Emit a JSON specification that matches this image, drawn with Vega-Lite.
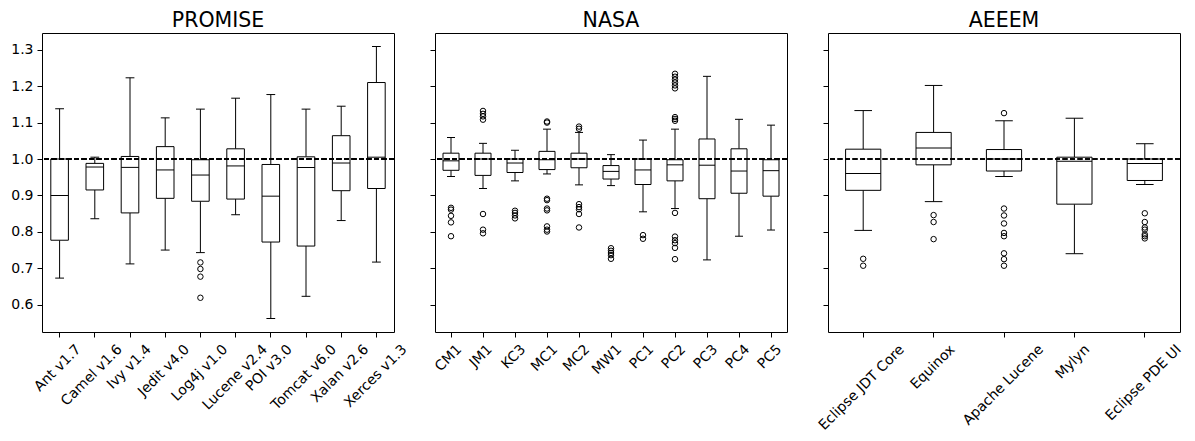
{
  "$schema": "https://vega.github.io/schema/vega-lite/v6.json",
  "background": "white",
  "padding": {"left": 10, "top": 10, "right": 5, "bottom": 5},
  "spacing": 41,
  "bounds": "flush",
  "config": {
    "view": {"stroke": "black", "strokeWidth": 1},
    "axis": {"labelFont": "DejaVu Sans", "labelFontSize": 14, "labelColor": "black", "tickColor": "black", "tickSize": 5, "tickWidth": 1, "domain": false, "grid": false},
    "title": {"font": "DejaVu Sans", "fontSize": 20.5, "fontWeight": "normal", "color": "black", "baseline": "alphabetic", "offset": 2, "anchor": "middle"}
  },
  "datasets": {
    "stats": [
      {"g": "PROMISE", "name": "Ant v1.7", "low": 0.673, "q1": 0.777, "med": 0.900, "q3": 1.000, "high": 1.138},
      {"g": "PROMISE", "name": "Camel v1.6", "low": 0.836, "q1": 0.915, "med": 0.978, "q3": 0.988, "high": 1.005},
      {"g": "PROMISE", "name": "Ivy v1.4", "low": 0.712, "q1": 0.852, "med": 0.977, "q3": 1.007, "high": 1.223},
      {"g": "PROMISE", "name": "Jedit v4.0", "low": 0.750, "q1": 0.892, "med": 0.970, "q3": 1.034, "high": 1.113},
      {"g": "PROMISE", "name": "Log4j v1.0", "low": 0.743, "q1": 0.884, "med": 0.956, "q3": 0.998, "high": 1.137},
      {"g": "PROMISE", "name": "Lucene v2.4", "low": 0.847, "q1": 0.890, "med": 0.981, "q3": 1.028, "high": 1.167},
      {"g": "PROMISE", "name": "POI v3.0", "low": 0.562, "q1": 0.772, "med": 0.898, "q3": 0.985, "high": 1.177},
      {"g": "PROMISE", "name": "Tomcat v6.0", "low": 0.623, "q1": 0.761, "med": 0.977, "q3": 1.006, "high": 1.137},
      {"g": "PROMISE", "name": "Xalan v2.6", "low": 0.831, "q1": 0.913, "med": 0.989, "q3": 1.064, "high": 1.145},
      {"g": "PROMISE", "name": "Xerces v1.3", "low": 0.717, "q1": 0.919, "med": 1.005, "q3": 1.210, "high": 1.309},
      {"g": "NASA", "name": "CM1", "low": 0.952, "q1": 0.969, "med": 0.995, "q3": 1.016, "high": 1.059},
      {"g": "NASA", "name": "JM1", "low": 0.919, "q1": 0.955, "med": 1.000, "q3": 1.016, "high": 1.043},
      {"g": "NASA", "name": "KC3", "low": 0.940, "q1": 0.963, "med": 0.989, "q3": 1.000, "high": 1.024},
      {"g": "NASA", "name": "MC1", "low": 0.959, "q1": 0.971, "med": 0.998, "q3": 1.021, "high": 1.082},
      {"g": "NASA", "name": "MC2", "low": 0.929, "q1": 0.976, "med": 1.000, "q3": 1.016, "high": 1.073},
      {"g": "NASA", "name": "MW1", "low": 0.927, "q1": 0.945, "med": 0.966, "q3": 0.982, "high": 1.012},
      {"g": "NASA", "name": "PC1", "low": 0.855, "q1": 0.930, "med": 0.970, "q3": 1.000, "high": 1.052},
      {"g": "NASA", "name": "PC2", "low": 0.864, "q1": 0.940, "med": 0.984, "q3": 0.998, "high": 1.082},
      {"g": "NASA", "name": "PC3", "low": 0.723, "q1": 0.891, "med": 0.983, "q3": 1.055, "high": 1.227},
      {"g": "NASA", "name": "PC4", "low": 0.788, "q1": 0.906, "med": 0.967, "q3": 1.028, "high": 1.109},
      {"g": "NASA", "name": "PC5", "low": 0.805, "q1": 0.898, "med": 0.968, "q3": 0.998, "high": 1.093},
      {"g": "AEEEM", "name": "Eclipse JDT Core", "low": 0.804, "q1": 0.914, "med": 0.960, "q3": 1.027, "high": 1.133},
      {"g": "AEEEM", "name": "Equinox", "low": 0.883, "q1": 0.984, "med": 1.030, "q3": 1.073, "high": 1.202},
      {"g": "AEEEM", "name": "Apache Lucene", "low": 0.952, "q1": 0.967, "med": 1.000, "q3": 1.026, "high": 1.105},
      {"g": "AEEEM", "name": "Mylyn", "low": 0.740, "q1": 0.876, "med": 0.994, "q3": 1.005, "high": 1.112},
      {"g": "AEEEM", "name": "Eclipse PDE UI", "low": 0.930, "q1": 0.941, "med": 0.988, "q3": 1.000, "high": 1.042}
    ],
    "out": [
      {"g": "PROMISE", "name": "Log4j v1.0", "v": 0.716},
      {"g": "PROMISE", "name": "Log4j v1.0", "v": 0.698},
      {"g": "PROMISE", "name": "Log4j v1.0", "v": 0.677},
      {"g": "PROMISE", "name": "Log4j v1.0", "v": 0.619},
      {"g": "NASA", "name": "CM1", "v": 0.866},
      {"g": "NASA", "name": "CM1", "v": 0.861},
      {"g": "NASA", "name": "CM1", "v": 0.844},
      {"g": "NASA", "name": "CM1", "v": 0.826},
      {"g": "NASA", "name": "CM1", "v": 0.788},
      {"g": "NASA", "name": "JM1", "v": 1.132},
      {"g": "NASA", "name": "JM1", "v": 1.124},
      {"g": "NASA", "name": "JM1", "v": 1.117},
      {"g": "NASA", "name": "JM1", "v": 1.108},
      {"g": "NASA", "name": "JM1", "v": 0.849},
      {"g": "NASA", "name": "JM1", "v": 0.806},
      {"g": "NASA", "name": "JM1", "v": 0.796},
      {"g": "NASA", "name": "KC3", "v": 0.858},
      {"g": "NASA", "name": "KC3", "v": 0.852},
      {"g": "NASA", "name": "KC3", "v": 0.845},
      {"g": "NASA", "name": "KC3", "v": 0.837},
      {"g": "NASA", "name": "MC1", "v": 1.103},
      {"g": "NASA", "name": "MC1", "v": 1.100},
      {"g": "NASA", "name": "MC1", "v": 0.891},
      {"g": "NASA", "name": "MC1", "v": 0.887},
      {"g": "NASA", "name": "MC1", "v": 0.864},
      {"g": "NASA", "name": "MC1", "v": 0.859},
      {"g": "NASA", "name": "MC1", "v": 0.815},
      {"g": "NASA", "name": "MC1", "v": 0.806},
      {"g": "NASA", "name": "MC1", "v": 0.801},
      {"g": "NASA", "name": "MC2", "v": 1.089},
      {"g": "NASA", "name": "MC2", "v": 1.083},
      {"g": "NASA", "name": "MC2", "v": 0.876},
      {"g": "NASA", "name": "MC2", "v": 0.868},
      {"g": "NASA", "name": "MC2", "v": 0.862},
      {"g": "NASA", "name": "MC2", "v": 0.849},
      {"g": "NASA", "name": "MC2", "v": 0.812},
      {"g": "NASA", "name": "MW1", "v": 0.755},
      {"g": "NASA", "name": "MW1", "v": 0.748},
      {"g": "NASA", "name": "MW1", "v": 0.742},
      {"g": "NASA", "name": "MW1", "v": 0.736},
      {"g": "NASA", "name": "MW1", "v": 0.726},
      {"g": "NASA", "name": "PC1", "v": 0.791},
      {"g": "NASA", "name": "PC1", "v": 0.781},
      {"g": "NASA", "name": "PC2", "v": 1.234},
      {"g": "NASA", "name": "PC2", "v": 1.226},
      {"g": "NASA", "name": "PC2", "v": 1.218},
      {"g": "NASA", "name": "PC2", "v": 1.210},
      {"g": "NASA", "name": "PC2", "v": 1.202},
      {"g": "NASA", "name": "PC2", "v": 1.194},
      {"g": "NASA", "name": "PC2", "v": 1.115},
      {"g": "NASA", "name": "PC2", "v": 1.110},
      {"g": "NASA", "name": "PC2", "v": 1.105},
      {"g": "NASA", "name": "PC2", "v": 0.852},
      {"g": "NASA", "name": "PC2", "v": 0.787},
      {"g": "NASA", "name": "PC2", "v": 0.777},
      {"g": "NASA", "name": "PC2", "v": 0.769},
      {"g": "NASA", "name": "PC2", "v": 0.756},
      {"g": "NASA", "name": "PC2", "v": 0.725},
      {"g": "AEEEM", "name": "Eclipse JDT Core", "v": 0.726},
      {"g": "AEEEM", "name": "Eclipse JDT Core", "v": 0.707},
      {"g": "AEEEM", "name": "Equinox", "v": 0.846},
      {"g": "AEEEM", "name": "Equinox", "v": 0.827},
      {"g": "AEEEM", "name": "Equinox", "v": 0.780},
      {"g": "AEEEM", "name": "Apache Lucene", "v": 1.126},
      {"g": "AEEEM", "name": "Apache Lucene", "v": 0.864},
      {"g": "AEEEM", "name": "Apache Lucene", "v": 0.845},
      {"g": "AEEEM", "name": "Apache Lucene", "v": 0.823},
      {"g": "AEEEM", "name": "Apache Lucene", "v": 0.797},
      {"g": "AEEEM", "name": "Apache Lucene", "v": 0.788},
      {"g": "AEEEM", "name": "Apache Lucene", "v": 0.741},
      {"g": "AEEEM", "name": "Apache Lucene", "v": 0.725},
      {"g": "AEEEM", "name": "Apache Lucene", "v": 0.707},
      {"g": "AEEEM", "name": "Eclipse PDE UI", "v": 0.851},
      {"g": "AEEEM", "name": "Eclipse PDE UI", "v": 0.827},
      {"g": "AEEEM", "name": "Eclipse PDE UI", "v": 0.812},
      {"g": "AEEEM", "name": "Eclipse PDE UI", "v": 0.806},
      {"g": "AEEEM", "name": "Eclipse PDE UI", "v": 0.793},
      {"g": "AEEEM", "name": "Eclipse PDE UI", "v": 0.788},
      {"g": "AEEEM", "name": "Eclipse PDE UI", "v": 0.782}
    ]
  },
  "hconcat": [
    {
      "title": "PROMISE",
      "width": 352, "height": 299,
      "data": {"name": "stats"},
      "transform": [{"filter": "datum.g == 'PROMISE'"}],
      "layer": [
        {"mark": {"type": "rule", "color": "black", "strokeWidth": 1},
         "encoding": {
           "x": {"field": "name", "type": "nominal", "scale": {"domain": ["Ant v1.7","Camel v1.6","Ivy v1.4","Jedit v4.0","Log4j v1.0","Lucene v2.4","POI v3.0","Tomcat v6.0","Xalan v2.6","Xerces v1.3"], "paddingInner": 0, "paddingOuter": 0}, "axis": {"title": null, "labelAngle": -45, "labelAlign": "right", "labelBaseline": "top", "labelPadding": 5, "labelOffset": {"expr": "0.354*(8.6*length(datum.label) - 4.3*(length(datum.label) - length(replace(datum.label, regexp('[ .lIijJtfr]', 'g'), ''))) - 16)"}}},
           "y": {"field": "low", "type": "quantitative", "scale": {"domain": [0.525, 1.346], "nice": false, "zero": false}, "axis": {"title": null, "values": [0.6,0.7,0.8,0.9,1.0,1.1,1.2,1.3], "format": ".1f", "labelPadding": 4}},
           "y2": {"field": "q1"}
         }},
        {"mark": {"type": "rule", "color": "black", "strokeWidth": 1},
         "encoding": {
           "x": {"field": "name", "type": "nominal"},
           "y": {"field": "q3", "type": "quantitative"},
           "y2": {"field": "high"}
         }},
        {"mark": {"type": "tick", "color": "black", "size": 8.8, "thickness": 1, "opacity": 1},
         "encoding": {
           "x": {"field": "name", "type": "nominal"},
           "y": {"field": "low", "type": "quantitative"}
         }},
        {"mark": {"type": "tick", "color": "black", "size": 8.8, "thickness": 1, "opacity": 1},
         "encoding": {
           "x": {"field": "name", "type": "nominal"},
           "y": {"field": "high", "type": "quantitative"}
         }},
        {"mark": {"type": "bar", "width": {"band": 0.5}, "fill": "white", "stroke": "black", "strokeWidth": 1},
         "encoding": {
           "x": {"field": "name", "type": "nominal"},
           "y": {"field": "q1", "type": "quantitative"},
           "y2": {"field": "q3"}
         }},
        {"mark": {"type": "tick", "color": "black", "size": 17.6, "thickness": 1, "opacity": 1},
         "encoding": {
           "x": {"field": "name", "type": "nominal"},
           "y": {"field": "med", "type": "quantitative"}
         }},
        {"data": {"name": "out"},
         "transform": [{"filter": "datum.g == 'PROMISE'"}],
         "mark": {"type": "point", "shape": "circle", "filled": false, "color": "black", "size": 30, "strokeWidth": 1, "opacity": 1},
         "encoding": {
           "x": {"field": "name", "type": "nominal"},
           "y": {"field": "v", "type": "quantitative"}
         }},
        {"mark": {"type": "rule", "color": "black", "strokeWidth": 1, "strokeDash": [5, 2.5]},
         "encoding": {"y": {"datum": 1, "type": "quantitative"}}}
      ]
    },
    {
      "title": "NASA",
      "width": 352, "height": 299,
      "data": {"name": "stats"},
      "transform": [{"filter": "datum.g == 'NASA'"}],
      "layer": [
        {"mark": {"type": "rule", "color": "black", "strokeWidth": 1},
         "encoding": {
           "x": {"field": "name", "type": "nominal", "scale": {"domain": ["CM1","JM1","KC3","MC1","MC2","MW1","PC1","PC2","PC3","PC4","PC5"], "paddingInner": 0, "paddingOuter": 0}, "axis": {"title": null, "labelAngle": -45, "labelAlign": "right", "labelBaseline": "top", "labelPadding": 5, "labelOffset": {"expr": "0.354*(8.6*length(datum.label) - 4.3*(length(datum.label) - length(replace(datum.label, regexp('[ .lIijJtfr]', 'g'), ''))) - 16)"}}},
           "y": {"field": "low", "type": "quantitative", "scale": {"domain": [0.525, 1.346], "nice": false, "zero": false}, "axis": {"title": null, "values": [0.6,0.7,0.8,0.9,1.0,1.1,1.2,1.3], "labels": false}},
           "y2": {"field": "q1"}
         }},
        {"mark": {"type": "rule", "color": "black", "strokeWidth": 1},
         "encoding": {
           "x": {"field": "name", "type": "nominal"},
           "y": {"field": "q3", "type": "quantitative"},
           "y2": {"field": "high"}
         }},
        {"mark": {"type": "tick", "color": "black", "size": 8, "thickness": 1, "opacity": 1},
         "encoding": {
           "x": {"field": "name", "type": "nominal"},
           "y": {"field": "low", "type": "quantitative"}
         }},
        {"mark": {"type": "tick", "color": "black", "size": 8, "thickness": 1, "opacity": 1},
         "encoding": {
           "x": {"field": "name", "type": "nominal"},
           "y": {"field": "high", "type": "quantitative"}
         }},
        {"mark": {"type": "bar", "width": {"band": 0.5}, "fill": "white", "stroke": "black", "strokeWidth": 1},
         "encoding": {
           "x": {"field": "name", "type": "nominal"},
           "y": {"field": "q1", "type": "quantitative"},
           "y2": {"field": "q3"}
         }},
        {"mark": {"type": "tick", "color": "black", "size": 16, "thickness": 1, "opacity": 1},
         "encoding": {
           "x": {"field": "name", "type": "nominal"},
           "y": {"field": "med", "type": "quantitative"}
         }},
        {"data": {"name": "out"},
         "transform": [{"filter": "datum.g == 'NASA'"}],
         "mark": {"type": "point", "shape": "circle", "filled": false, "color": "black", "size": 30, "strokeWidth": 1, "opacity": 1},
         "encoding": {
           "x": {"field": "name", "type": "nominal"},
           "y": {"field": "v", "type": "quantitative"}
         }},
        {"mark": {"type": "rule", "color": "black", "strokeWidth": 1, "strokeDash": [5, 2.5]},
         "encoding": {"y": {"datum": 1, "type": "quantitative"}}}
      ]
    },
    {
      "title": "AEEEM",
      "width": 352, "height": 299,
      "data": {"name": "stats"},
      "transform": [{"filter": "datum.g == 'AEEEM'"}],
      "layer": [
        {"mark": {"type": "rule", "color": "black", "strokeWidth": 1},
         "encoding": {
           "x": {"field": "name", "type": "nominal", "scale": {"domain": ["Eclipse JDT Core","Equinox","Apache Lucene","Mylyn","Eclipse PDE UI"], "paddingInner": 0, "paddingOuter": 0}, "axis": {"title": null, "labelAngle": -45, "labelAlign": "right", "labelBaseline": "top", "labelPadding": 5, "labelOffset": {"expr": "0.354*(8.6*length(datum.label) - 4.3*(length(datum.label) - length(replace(datum.label, regexp('[ .lIijJtfr]', 'g'), ''))) - 16)"}}},
           "y": {"field": "low", "type": "quantitative", "scale": {"domain": [0.525, 1.346], "nice": false, "zero": false}, "axis": {"title": null, "values": [0.6,0.7,0.8,0.9,1.0,1.1,1.2,1.3], "labels": false}},
           "y2": {"field": "q1"}
         }},
        {"mark": {"type": "rule", "color": "black", "strokeWidth": 1},
         "encoding": {
           "x": {"field": "name", "type": "nominal"},
           "y": {"field": "q3", "type": "quantitative"},
           "y2": {"field": "high"}
         }},
        {"mark": {"type": "tick", "color": "black", "size": 17.6, "thickness": 1, "opacity": 1},
         "encoding": {
           "x": {"field": "name", "type": "nominal"},
           "y": {"field": "low", "type": "quantitative"}
         }},
        {"mark": {"type": "tick", "color": "black", "size": 17.6, "thickness": 1, "opacity": 1},
         "encoding": {
           "x": {"field": "name", "type": "nominal"},
           "y": {"field": "high", "type": "quantitative"}
         }},
        {"mark": {"type": "bar", "width": {"band": 0.5}, "fill": "white", "stroke": "black", "strokeWidth": 1},
         "encoding": {
           "x": {"field": "name", "type": "nominal"},
           "y": {"field": "q1", "type": "quantitative"},
           "y2": {"field": "q3"}
         }},
        {"mark": {"type": "tick", "color": "black", "size": 35.2, "thickness": 1, "opacity": 1},
         "encoding": {
           "x": {"field": "name", "type": "nominal"},
           "y": {"field": "med", "type": "quantitative"}
         }},
        {"data": {"name": "out"},
         "transform": [{"filter": "datum.g == 'AEEEM'"}],
         "mark": {"type": "point", "shape": "circle", "filled": false, "color": "black", "size": 30, "strokeWidth": 1, "opacity": 1},
         "encoding": {
           "x": {"field": "name", "type": "nominal"},
           "y": {"field": "v", "type": "quantitative"}
         }},
        {"mark": {"type": "rule", "color": "black", "strokeWidth": 1, "strokeDash": [5, 2.5]},
         "encoding": {"y": {"datum": 1, "type": "quantitative"}}}
      ]
    }
  ]
}
